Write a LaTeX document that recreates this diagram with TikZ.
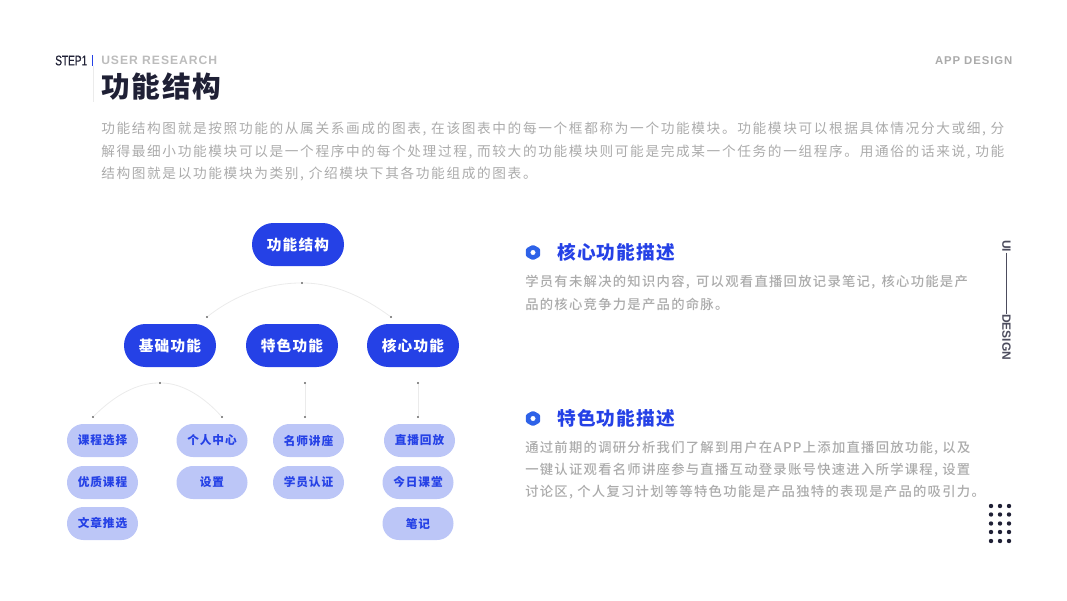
\documentclass[tikz,border=0pt]{standalone}
\usepackage{fontspec}
\setmainfont{Noto Sans CJK SC}
\newfontfamily\titlefont[LetterSpace=6]{Noto Sans CJK SC}
\newfontfamily\bodyfont[LetterSpace=12]{Noto Sans CJK SC}
\newfontfamily\descfont[LetterSpace=9.5]{Noto Sans CJK SC Medium}
\newfontfamily\boxfont[LetterSpace=8]{Noto Sans CJK SC}
\newfontfamily\latinfont[LetterSpace=8]{Liberation Sans}
\newfontfamily\uifont{Liberation Sans}
\newfontfamily\stepfont[FakeStretch=0.72,FakeBold=0.4]{Liberation Sans}
\definecolor{mainblue}{HTML}{2541E6}
\definecolor{iconblue}{HTML}{2E62E8}
\definecolor{lightblue}{HTML}{BCC6F7}
\definecolor{textgray}{HTML}{ABABAB}
\definecolor{titledark}{HTML}{1F2035}
\definecolor{linegray}{HTML}{EBEBEB}
\definecolor{dotgray}{HTML}{666666}

\begin{document}
\begin{tikzpicture}[
  lvltop/.style={fill=mainblue, text=white, rounded corners=16pt, minimum width=69pt, minimum height=32.25pt, inner sep=0pt, font=\boxfont\fontsize{11pt}{12pt}\selectfont\bfseries},
  lvlleaf/.style={fill=lightblue, text=mainblue, rounded corners=12.3pt, minimum width=53.25pt, minimum height=24.75pt, inner sep=0pt, font=\boxfont\fontsize{8.75pt}{10pt}\selectfont\bfseries},
  txt/.style={anchor=west, inner sep=0pt, text=textgray},
  para/.style={txt, font=\bodyfont\fontsize{10.25pt}{12pt}\selectfont},
  desc/.style={txt, font=\descfont\fontsize{10pt}{12pt}\selectfont},
  head/.style={txt, text=mainblue, font=\titlefont\fontsize{14pt}{16pt}\selectfont\bfseries},
  small/.style={txt, font=\latinfont\fontsize{9pt}{11pt}\selectfont\bfseries},
  sideword/.style={anchor=west, inner sep=0pt, rotate=-90, text=titledark!80, font=\uifont\fontsize{9pt}{11pt}\selectfont\bfseries},
  link/.style={linegray, line width=0.6pt},
  endpt/.style={circle, fill=dotgray, inner sep=0pt, minimum size=1.6pt}
]
\def\u{0.75pt}
\begin{scope}[x=\u, y=-\u]
\useasboundingbox (0, 0) rectangle (1067, 600);

\node [anchor=west, inner sep=0pt, text=titledark, font=\stepfont\fontsize{10.5pt}{12pt}\selectfont] (step) at (55, 60.5) {STEP1};
\fill [mainblue] (91.5, 55) rectangle (93, 66);
\draw [linegray, line width=0.7pt] (93, 66) -- (93, 102);
\node [small, text=textgray!80, font=\latinfont\fontsize{9.1pt}{11pt}\selectfont\bfseries] (research) at (101, 60.5) {USER RESEARCH};
\node [small, anchor=east, font=\latinfont\fontsize{8.5pt}{11pt}\selectfont\bfseries] (appdesign) at (1012.5, 60.5) {APP DESIGN};
\node [txt, text=titledark, font=\titlefont\fontsize{21.5pt}{24pt}\selectfont\bfseries] (title) at (101, 87) {功能结构};

\node [para] (intro1) at (101, 129) {功能结构图就是按照功能的从属关系画成的图表, 在该图表中的每一个框都称为一个功能模块。功能模块可以根据具体情况分大或细, 分};
\node [para] (intro2) at (101, 151.5) {解得最细小功能模块可以是一个程序中的每个处理过程, 而较大的功能模块则可能是完成某一个任务的一组程序。用通俗的话来说, 功能};
\node [para] (intro3) at (101, 174) {结构图就是以功能模块为类别, 介绍模块下其各功能组成的图表。};

\node [lvltop] (root) at (298, 244.5) {功能结构};
\node [lvltop] (basic) at (170, 345.5) {基础功能};
\node [lvltop] (feature) at (292, 345.5) {特色功能};
\node [lvltop] (core) at (413, 345.5) {核心功能};

\node [endpt] (rootmid) at (302, 283) {};
\node [endpt] (rootl) at (207, 317) {};
\node [endpt] (rootr) at (391, 317) {};
\node [endpt] (basicmid) at (160, 383) {};
\node [endpt] (basicl) at (93, 417) {};
\node [endpt] (basicr) at (222, 417) {};
\node [endpt] (featuret) at (305, 383) {};
\node [endpt] (featureb) at (305, 417) {};
\node [endpt] (coret) at (418, 383) {};
\node [endpt] (coreb) at (418, 417) {};

\draw [link] (rootl) .. controls (235, 295) and (268, 283) .. (rootmid);
\draw [link] (rootmid) .. controls (335, 283) and (365, 298) .. (rootr);
\draw [link] (basicl) .. controls (115, 395) and (137, 383) .. (basicmid);
\draw [link] (basicmid) .. controls (183, 383) and (205, 398) .. (basicr);
\draw [link] (featuret) -- (featureb);
\draw [link] (coret) -- (coreb);

\node [lvlleaf] (leaf11) at (102.5, 440.5) {课程选择};
\node [lvlleaf] (leaf12) at (102.5, 482.5) {优质课程};
\node [lvlleaf] (leaf13) at (102.5, 523.5) {文章推选};
\node [lvlleaf] (leaf21) at (212, 440.5) {个人中心};
\node [lvlleaf] (leaf22) at (212, 482.5) {设置};
\node [lvlleaf] (leaf31) at (308.5, 440.5) {名师讲座};
\node [lvlleaf] (leaf32) at (308.5, 482.5) {学员认证};
\node [lvlleaf] (leaf41) at (419.5, 440.5) {直播回放};
\node [lvlleaf] (leaf42) at (418, 482.5) {今日课堂};
\node [lvlleaf] (leaf43) at (418, 523.5) {笔记};

\fill [iconblue, even odd rule, rounded corners=1pt] (533, 244.7) -- (540.2, 248.6) -- (540.2, 256.4) -- (533, 260.3) -- (525.8, 256.4) -- (525.8, 248.6) -- cycle
  (533, 249.5) -- (535.6, 251) -- (535.6, 254) -- (533, 255.5) -- (530.4, 254) -- (530.4, 251) -- cycle;
\node [head] (corehead) at (557, 252.5) {核心功能描述};
\node [desc] (core1) at (525, 282) {学员有未解决的知识内容,\hspace{1.5pt} 可以观看直播回放记录笔记,\hspace{1.5pt} 核心功能是产};
\node [desc] (core2) at (525, 304) {品的核心竞争力是产品的命脉。};

\fill [iconblue, even odd rule, rounded corners=1pt] (533, 410.7) -- (540.2, 414.6) -- (540.2, 422.4) -- (533, 426.3) -- (525.8, 422.4) -- (525.8, 414.6) -- cycle
  (533, 415.5) -- (535.6, 417) -- (535.6, 420) -- (533, 421.5) -- (530.4, 420) -- (530.4, 417) -- cycle;
\node [head] (featurehead) at (557, 418.5) {特色功能描述};
\node [desc] (feature1) at (525, 448) {通过前期的调研分析我们了解到用户在APP上添加直播回放功能, 以及};
\node [desc] (feature2) at (525, 470) {一键认证观看名师讲座参与直播互动登录账号快速进入所学课程, 设置};
\node [desc] (feature3) at (525, 492) {讨论区, 个人复习计划等等特色功能是产品独特的表现是产品的吸引力。};

\node [sideword] (ui) at (1006.5, 240) {UI};
\node [sideword] (design) at (1006.5, 314) {DESIGN};
\draw [titledark!80, line width=0.7pt] (ui) -- (design);

\foreach \i in {991, 1000, 1009}
  \foreach \j in {506, 514.5, 523.5, 532, 541}
    \fill [titledark] (\i, \j) circle [radius=2.2];

\end{scope}
\end{tikzpicture}
\end{document}
